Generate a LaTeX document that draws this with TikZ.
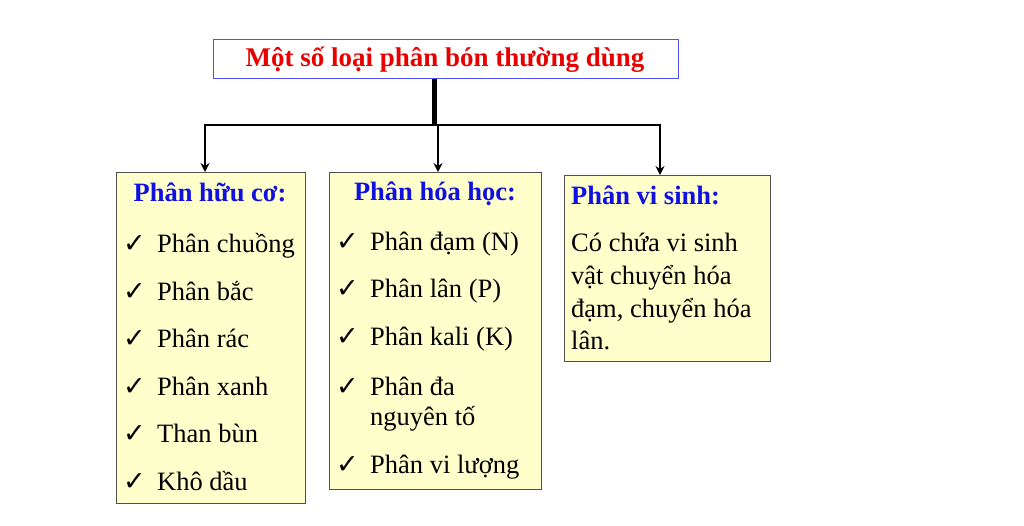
\documentclass[tikz,border=0pt]{standalone}
\usepackage{fontspec}
\setmainfont{Liberation Serif}
\newfontfamily\symfont{DejaVu Sans}
\usetikzlibrary{arrows.meta}
\definecolor{boxfill}{HTML}{FFFFCC}
\definecolor{boxline}{HTML}{505050}
\definecolor{titlered}{HTML}{E80000}
\definecolor{headblue}{HTML}{1010E0}
\definecolor{titleline}{HTML}{5050F0}
\tikzset{
  panel/.style={draw=boxline, line width=1.2pt, fill=boxfill, anchor=north west, inner sep=0pt},
  titlebox/.style={draw=titleline, line width=1.2pt, fill=white, anchor=north west, inner sep=0pt},
  txt/.style={anchor=base west, inner sep=0pt, font=\fontsize{26.5}{30}\selectfont},
  head/.style={anchor=base, inner sep=0pt, text=headblue, font=\fontsize{26.5}{30}\selectfont\bfseries},
  tick/.style={anchor=base west, inner sep=0pt, font=\fontsize{27}{30}\selectfont\symfont},
  conn/.style={line width=2.8pt},
  arr/.style={line width=2.8pt, -{Stealth[length=9pt,width=9pt]}}
}
\begin{document}
\begin{tikzpicture}[x=1pt,y=-1pt]
\useasboundingbox (0,0) rectangle (1024,525);
% boxes
\node[titlebox, minimum width=465pt, minimum height=39pt] (title) at (213,39) {};
\node[anchor=base, inner sep=0pt, text=titlered, font=\fontsize{27}{30}\selectfont\bfseries] (titletxt) at (445,66) {Một số loại phân bón thường dùng};
\node[panel, minimum width=189pt, minimum height=331pt] (b1) at (116,172) {};
\node[panel, minimum width=212pt, minimum height=317pt] (b2) at (329,172) {};
\node[panel, minimum width=206pt, minimum height=186pt] (b3) at (564,175) {};
% connectors
\coordinate (j) at (434,125);
\coordinate (hl) at (205,125);
\coordinate (hm) at (438,125);
\coordinate (hr) at (660,125);
\draw[line width=5pt] (title.south -| j) -- ([yshift=1.5pt]j);
\draw[conn] ([xshift=-1.4pt]hl) -- ([xshift=1.4pt]hr);
\draw[arr] (hl) -- (hl |- b1.north);
\draw[arr] (hm) -- (hm |- b2.north);
\draw[arr] (hr) -- (hr |- b3.north);
% box 1
\node[head] (h1) at (210,201) {Phân hữu cơ:};
\foreach \y/\t [count=\i] in {252/Phân chuồng,300/Phân bắc,347/Phân rác,395/Phân xanh,442/Than bùn,490/Khô dầu}{
  \node[tick] (c1\i) at (123,\y) {✓};
  \node[txt] (t1\i) at (157,\y) {\t};
}
% box 2
\node[head] (h2) at (435,200) {Phân hóa học:};
\foreach \y/\t [count=\i] in {250/Phân đạm (N),297/Phân lân (P),345/Phân kali (K),395/Phân đa,473/Phân vi lượng}{
  \node[tick] (c2\i) at (336,\y) {✓};
  \node[txt] (t2\i) at (370,\y) {\t};
}
\node[txt] (t2x) at (370,425) {nguyên tố};
% box 3
\node[head, anchor=base west] (h3) at (571,204) {Phân vi sinh:};
\node[txt] (t31) at (571,251) {Có chứa vi sinh};
\node[txt] (t32) at (571,284) {vật chuyển hóa};
\node[txt] (t33) at (571,317) {đạm, chuyển hóa};
\node[txt] (t34) at (571,349) {lân.};
\end{tikzpicture}
\end{document}
